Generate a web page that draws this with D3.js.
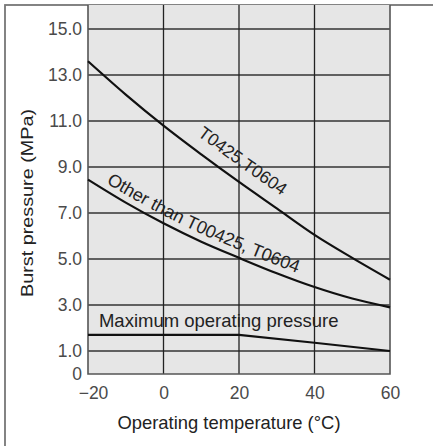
<!DOCTYPE html>
<html>
<head>
<meta charset="utf-8">
<script src="https://cdn.jsdelivr.net/npm/d3@7"></script>
<style>
  body { margin: 0; background: #fff; }
  text { font-family: "Liberation Sans", Arial, sans-serif; }
</style>
</head>
<body>
<svg id="chart" width="433" height="446"></svg>
<script>
// data
const temps = [-20, -10, 0, 10, 20, 30, 40, 50, 60];
const burstT0425 = [13.6, 12.15, 10.8, 9.55, 8.35, 7.2, 6.05, 5.05, 4.1];
const burstOther = [8.45, 7.45, 6.55, 5.75, 5.05, 4.38, 3.78, 3.28, 2.9];
const maxTemps = [-20, 0, 20, 40, 60];
const maxPressure = [1.7, 1.7, 1.7, 1.36, 1.0];

const xTicks = [-20, 0, 20, 40, 60];
const yTicks = [0, 1, 3, 5, 7, 9, 11, 13, 15];

const svg = d3.select("#chart");
const width = +svg.attr("width");
const height = +svg.attr("height");

// outer frame
svg.append("rect")
  .attr("x", 5).attr("y", 5)
  .attr("width", width).attr("height", height)
  .attr("fill", "none")
  .attr("stroke", "#777")
  .attr("stroke-width", 1.8);

const x = d3.scaleLinear().domain([-20, 60]).range([88, 390]);
const y = d3.scaleLinear().domain([0, 16]).range([374, 6]);

// plot background
svg.append("rect")
  .attr("x", x(-20)).attr("y", 5)
  .attr("width", x(60) - x(-20)).attr("height", y(0) - 5)
  .attr("fill", "#e6e6e6");

// grid
svg.append("g")
  .selectAll("line")
  .data(yTicks.filter((d) => d > 0))
  .join("line")
  .attr("x1", x(-20)).attr("x2", x(60))
  .attr("y1", (d) => y(d)).attr("y2", (d) => y(d))
  .attr("stroke", "#333").attr("stroke-width", 1.3);

svg.append("g")
  .selectAll("line")
  .data(xTicks.filter((d) => d > -20 && d < 60))
  .join("line")
  .attr("x1", (d) => x(d)).attr("x2", (d) => x(d))
  .attr("y1", 5).attr("y2", y(0))
  .attr("stroke", "#222").attr("stroke-width", 1.3);

// plot edges
svg.append("path")
  .attr("d", `M${x(-20)},5V${y(0)}H${x(60)}V5`)
  .attr("fill", "none")
  .attr("stroke", "#555")
  .attr("stroke-width", 1.6);

// tick labels
const yAxis = svg.append("g").attr("transform", `translate(${x(-20)},0)`)
  .call(d3.axisLeft(y).tickValues(yTicks).tickSize(0).tickPadding(6)
    .tickFormat((d) => (d === 0 ? "0" : d3.format(".1f")(d))));
yAxis.select(".domain").remove();
yAxis.selectAll("text")
  .attr("font-size", 17.5).attr("fill", "#4a4a4a")
  .attr("font-family", "Liberation Sans, Arial, sans-serif")
  .attr("dy", (d) => (d === 0 ? "0.3em" : "0.34em"));

const xAxis = svg.append("g").attr("transform", `translate(0,${y(0)})`)
  .call(d3.axisBottom(x).tickValues(xTicks).tickSize(0).tickPadding(13)
    .tickFormat((d) => (d < 0 ? "\u2212" + Math.abs(d) : d)));
xAxis.select(".domain").remove();
xAxis.selectAll("text")
  .attr("font-size", 17.5).attr("fill", "#4a4a4a")
  .attr("font-family", "Liberation Sans, Arial, sans-serif")
  .attr("dx", (d) => (d < 0 ? 5 : 0));

// curves
const line = d3.line()
  .x((d) => x(d[0]))
  .y((d) => y(d[1]))
  .curve(d3.curveMonotoneX);

svg.append("path")
  .datum(d3.zip(temps, burstT0425))
  .attr("d", line)
  .attr("fill", "none").attr("stroke", "#111").attr("stroke-width", 2.2);

svg.append("path")
  .datum(d3.zip(temps, burstOther))
  .attr("d", line)
  .attr("fill", "none").attr("stroke", "#111").attr("stroke-width", 2.2);

svg.append("path")
  .datum(d3.zip(maxTemps, maxPressure))
  .attr("d", d3.line().x((d) => x(d[0])).y((d) => y(d[1])))
  .attr("fill", "none").attr("stroke", "#111").attr("stroke-width", 2.2);

// labels that follow the curves (offset paths, invisible)
function curveLabel(id, values, shift, startX, size, label) {
  const offsetLine = d3.line()
    .x((d) => x(d[0]))
    .y((d) => y(d[1]) + shift)
    .curve(d3.curveMonotoneX);
  const p = svg.append("path")
    .attr("id", id)
    .datum(d3.zip(temps, values))
    .attr("d", offsetLine)
    .attr("fill", "none");
  const node = p.node();
  let lo = 0, hi = node.getTotalLength();
  for (let i = 0; i < 30; i++) {
    const mid = (lo + hi) / 2;
    if (node.getPointAtLength(mid).x < startX) lo = mid; else hi = mid;
  }
  svg.append("text")
    .attr("font-size", size).attr("fill", "#222")
    .append("textPath")
    .attr("href", "#" + id)
    .attr("startOffset", lo)
    .text(label);
}

curveLabel("pathT0425", burstT0425, -16, 197, 17.5, "T0425,T0604");
curveLabel("pathOther", burstOther, -8, 106, 18, "Other than T00425, T0604");

svg.append("text")
  .attr("x", x(-17.1)).attr("y", y(2.04))
  .attr("font-size", 18.5).attr("fill", "#222")
  .text("Maximum operating pressure");

// axis titles
svg.append("text")
  .attr("x", 229).attr("y", 429)
  .attr("text-anchor", "middle")
  .attr("font-size", 18.4).attr("fill", "#222")
  .text("Operating temperature (\u00B0C)");

svg.append("text")
  .attr("transform", "translate(33,203) rotate(-90)")
  .attr("text-anchor", "middle")
  .attr("font-size", 16).attr("fill", "#222")
  .attr("textLength", 188)
  .attr("lengthAdjust", "spacingAndGlyphs")
  .text("Burst pressure (MPa)");
</script>
</body>
</html>
